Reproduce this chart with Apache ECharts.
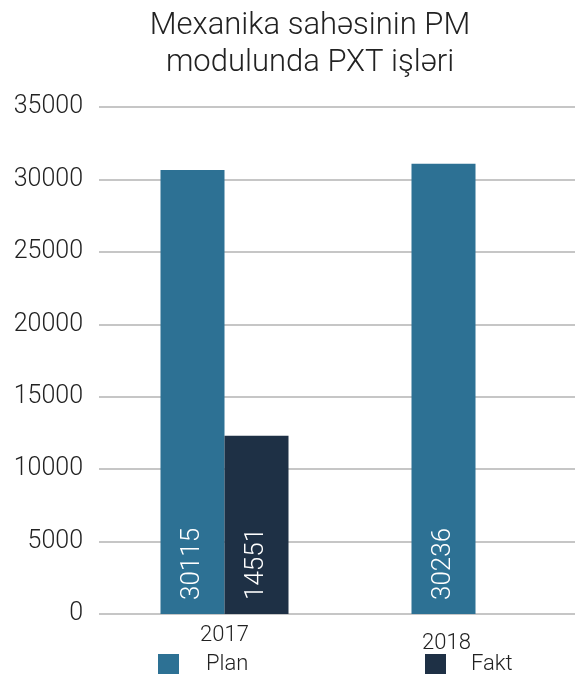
<!DOCTYPE html>
<html>
<head>
<meta charset="utf-8">
<script src="https://cdn.jsdelivr.net/npm/echarts@6/dist/echarts.min.js"></script>
<style>
    html,body{margin:0;padding:0;background:#fff;}
    #chart{width:575px;height:679px;}
</style>
</head>
<body>
<div id="chart"></div>
<script>
//分类(年份)
var years=['2017','2018'];
//柱子高度
var planValues=[30650,31080];
var faktValues=[12300,null];
//柱子上写的数字
var planLabels=['30115','30236'];
var faktLabels=['14551',''];
//y轴刻度
var yTicks=[0,5000,10000,15000,20000,25000,30000,35000];

var myChart=echarts.init(document.getElementById('chart'));
var font='Roboto';
var thin=300;

//柱内白色竖排标签
var barLabel=function(labels){
    return {
        show:true,
        position:'insideBottom',
        rotate:90,
        align:'left',
        verticalAlign:'middle',
        distance:14,
        color:'#fff',
        fontSize:26,
        fontWeight:thin,
        fontFamily:font,
        formatter:function(p){return labels[p.dataIndex];}
    };
};

var option={
    animation:false,
    backgroundColor:'#fff',
    title:{
        text:'Mexanika sahəsinin PM\nmodulunda PXT işləri',
        left:305,
        textAlign:'center',
        top:3,
        textStyle:{fontSize:31,fontWeight:thin,color:'#222',fontFamily:font,lineHeight:37}
    },
    legend:[
        {data:['Plan'],left:158,top:653,padding:0,icon:'rect',itemWidth:21,itemHeight:20,
            textStyle:{fontSize:22,fontWeight:thin,color:'#222',fontFamily:font,padding:[0,0,0,22]}},
        {data:['Fakt'],left:425,top:653,padding:0,icon:'rect',itemWidth:21,itemHeight:20,
            textStyle:{fontSize:22,fontWeight:thin,color:'#222',fontFamily:font,padding:[0,0,0,20]}}
    ],
    grid:{left:99,right:-26,top:107,bottom:65,outerBoundsMode:'none',containLabel:false},
    xAxis:{
        type:'category',
        data:years,
        axisLine:{show:false},
        axisTick:{show:false},
        axisLabel:{
            margin:10,
            fontSize:22,
            color:'#222',
            fontFamily:font,
            formatter:function(v,i){return i==0?'{a|'+v+'}':'{b|'+v+'}';},
            rich:{
                a:{fontSize:22,fontWeight:thin,color:'#222',fontFamily:font},
                b:{fontSize:22,fontWeight:thin,color:'#222',fontFamily:font,padding:[8,58,0,0]}
            }
        }
    },
    yAxis:{
        type:'value',
        min:yTicks[0],
        max:yTicks[yTicks.length-1],
        interval:yTicks[1]-yTicks[0],
        axisLine:{show:false},
        axisTick:{show:false},
        axisLabel:{margin:16,fontSize:25,fontWeight:thin,color:'#222',fontFamily:font,
            formatter:function(v){return String(v);}},
        splitLine:{lineStyle:{color:'#c6c6c6',width:2}}
    },
    series:[
        {name:'Plan',type:'bar',data:planValues,barWidth:64,barGap:'0%',
            itemStyle:{color:'#2d7194'},label:barLabel(planLabels)},
        {name:'Fakt',type:'bar',data:faktValues,barWidth:64,barGap:'0%',
            itemStyle:{color:'#1e3045'},label:barLabel(faktLabels)}
    ]
};
myChart.setOption(option);
</script>
</body>
</html>
